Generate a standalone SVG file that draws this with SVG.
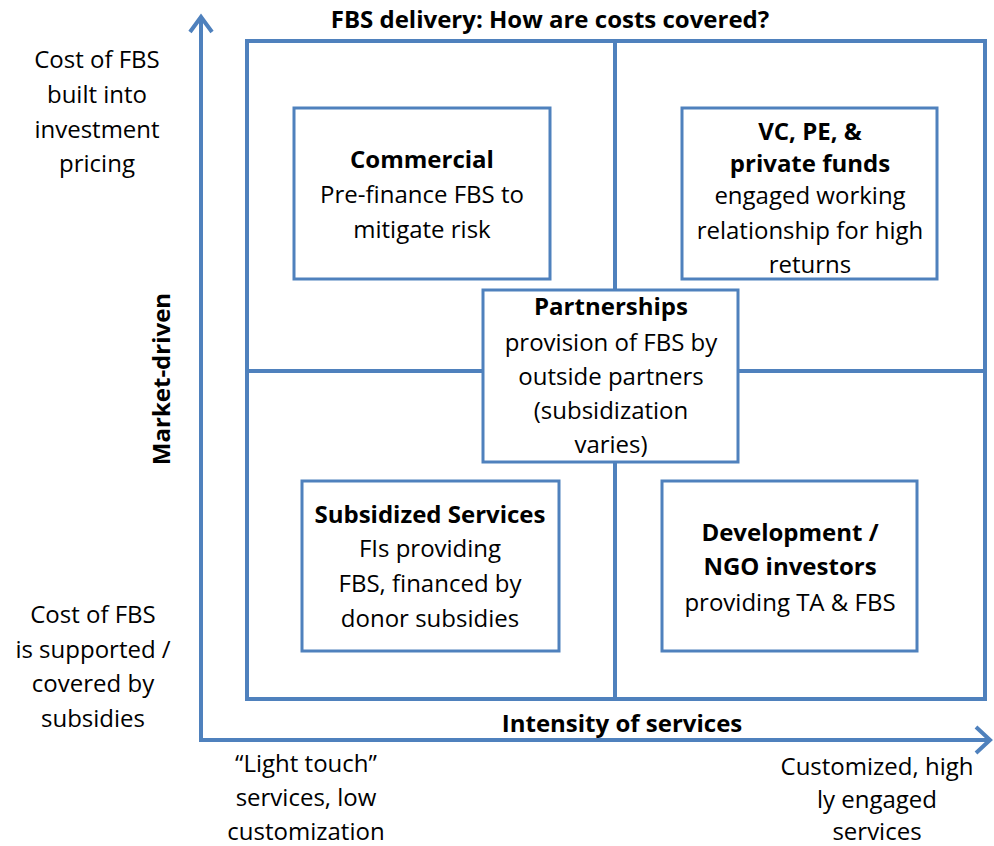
<svg xmlns="http://www.w3.org/2000/svg" width="994" height="846" viewBox="0 0 994 846">
  <style>
    .ln { fill: none; stroke: #4F81BD; stroke-width: 4; }
    .box { fill: #FFFFFF; stroke: #4F81BD; stroke-width: 3; }
    text { font-family: "Open Sans", "Liberation Sans", sans-serif; font-size: 24px; fill: #000000; text-anchor: middle; }
    .b { font-weight: bold; }
  </style>
  <rect width="994" height="846" fill="#FFFFFF"/>

  <!-- axes and quadrant frame -->
  <g id="connectors">
    <path class="ln" d="M201 741 V18"/>
    <path class="ln" d="M190 32 L201 17 L212 32"/>
    <path class="ln" d="M199 740 H990"/>
    <path class="ln" d="M976 727 L990 740 L976 753"/>
    <rect class="ln" x="247" y="41" width="738" height="658"/>
    <path class="ln" d="M615 41 V699"/>
    <path class="ln" d="M247 371 H985"/>
  </g>

  <!-- axis labels -->
  <g id="labels">
    <text class="b" x="550" y="28">FBS delivery: How are costs covered?</text>
    <text x="97" y="68">Cost of FBS</text>
    <text x="97" y="103">built into</text>
    <text x="97" y="138">investment</text>
    <text x="97" y="172">pricing</text>
    <text x="93" y="623">Cost of FBS</text>
    <text x="93" y="658">is supported /</text>
    <text x="93" y="692">covered by</text>
    <text x="93" y="727">subsidies</text>
    <text class="b" transform="translate(170 379) rotate(-90)">Market-driven</text>
    <text class="b" x="622" y="732">Intensity of services</text>
    <text x="306" y="772">“Light touch”</text>
    <text x="306" y="806">services, low</text>
    <text x="306" y="840">customization</text>
    <text x="877" y="775">Customized, high</text>
    <text x="877" y="808">ly engaged</text>
    <text x="877" y="840">services</text>
  </g>

  <g id="commercial">
    <rect class="box" x="294" y="108" width="256" height="171"/>
    <text class="b" x="422" y="168">Commercial</text>
    <text x="422" y="203">Pre-finance FBS to</text>
    <text x="422" y="238">mitigate risk</text>
  </g>

  <g id="vc-pe">
    <rect class="box" x="682" y="108" width="255" height="171"/>
    <text class="b" x="810" y="140">VC, PE, &amp;</text>
    <text class="b" x="810" y="172">private funds</text>
    <text x="810" y="204">engaged working</text>
    <text x="810" y="239">relationship for high</text>
    <text x="810" y="273">returns</text>
  </g>

  <g id="partnerships">
    <rect class="box" x="483" y="290" width="255" height="172"/>
    <text class="b" x="611" y="315">Partnerships</text>
    <text x="611" y="351">provision of FBS by</text>
    <text x="611" y="385">outside partners</text>
    <text x="611" y="419">(subsidization</text>
    <text x="611" y="453">varies)</text>
  </g>

  <g id="subsidized">
    <rect class="box" x="302" y="481" width="257" height="170"/>
    <text class="b" x="430" y="523">Subsidized Services</text>
    <text x="430" y="557">FIs providing</text>
    <text x="430" y="592">FBS, financed by</text>
    <text x="430" y="627">donor subsidies</text>
  </g>

  <g id="development">
    <rect class="box" x="662" y="481" width="255" height="170"/>
    <text class="b" x="790" y="541">Development /</text>
    <text class="b" x="790" y="575">NGO investors</text>
    <text x="790" y="611">providing TA &amp; FBS</text>
  </g>
</svg>
